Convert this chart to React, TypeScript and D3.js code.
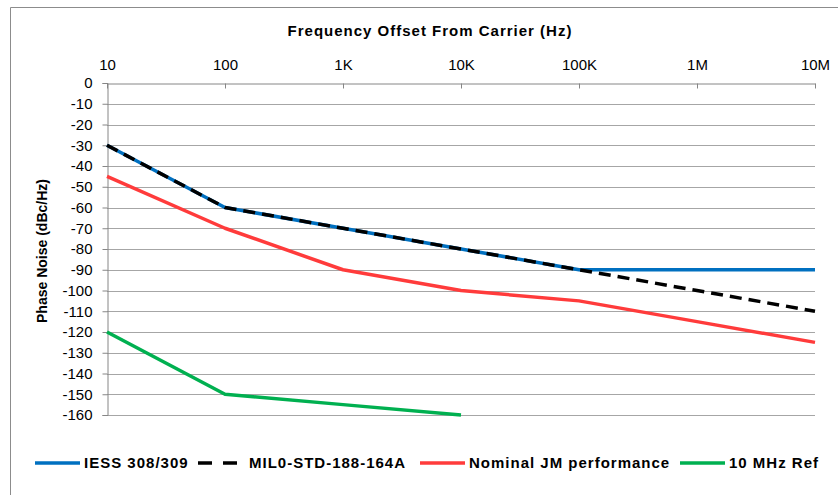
import * as d3 from "d3";
import { useRef, useEffect } from "react";

const freqs = [10, 100, 1e3, 1e4, 1e5, 1e6, 1e7];
const freqLabels = ["10", "100", "1K", "10K", "100K", "1M", "10M"];
const yTicks = d3.range(0, -170, -10);

const iess = [-30, -60, -70, -80, -90, -90, -90];
const mil = [-30, -60, -70, -80, -90, -100, -110];
const nominal = [-45, -70, -90, -100, -105, -115, -125];
const ref10 = [-120, -150, -155, -160];

type Series = { name: string; values: number[]; color: string; dash?: string };

const series: Series[] = [
    { name: "IESS 308/309", values: iess, color: "#0070c0" },
    { name: "MIL0-STD-188-164A", values: mil, color: "#000000", dash: "12,7" },
    { name: "Nominal JM performance", values: nominal, color: "#ff3b3b" },
    { name: "10 MHz Ref", values: ref10, color: "#00b050" },
];

// legend swatch x positions (left of line), text follows
const legendX = [35, 198, 420, 680];

const width = 838;
const height = 495;
const plotLeft = 107;
const plotRight = 815;
const plotTop = 83;
const plotBottom = 415;

export default function App() {
    const ref = useRef<SVGGElement>(null);

    useEffect(() => {
        const g = d3.select(ref.current);
        g.selectAll("*").remove();

        const x = d3.scaleLog().domain([10, 1e7]).range([plotLeft, plotRight]);
        const y = d3.scaleLinear().domain([0, -160]).range([plotTop, plotBottom]);

        // frame
        g.append("path")
            .attr("d", `M10.5,${height} V7.5 H${width}`)
            .attr("fill", "none")
            .attr("stroke", "#8c8c8c");

        // gridlines
        g.append("g")
            .selectAll("line")
            .data(yTicks.filter(d => d !== 0))
            .join("line")
            .attr("x1", plotLeft)
            .attr("x2", plotRight)
            .attr("y1", d => Math.round(y(d)) + 0.5)
            .attr("y2", d => Math.round(y(d)) + 0.5)
            .attr("stroke", "#a6a6a6")
            .attr("stroke-width", 1);

        // left axis
        const leftAxis = d3.axisLeft(y)
            .tickValues(yTicks)
            .tickSize(5)
            .tickPadding(10)
            .tickFormat(d => String(d));
        const la = g.append("g")
            .attr("transform", `translate(${plotLeft + 0.5},0)`)
            .call(leftAxis);
        la.select(".domain").attr("stroke", "#868686");
        la.selectAll(".tick line").attr("stroke", "#868686");
        la.selectAll(".tick text")
            .attr("font-family", "Liberation Sans, Arial, sans-serif")
            .attr("font-size", 15)
            .attr("fill", "#000");

        // top axis (ticks point into plot)
        const topAxis = d3.axisTop(x)
            .tickValues(freqs)
            .tickSize(-5)
            .tickSizeOuter(0)
            .tickPadding(14)
            .tickFormat((_, i) => freqLabels[i]);
        const ta = g.append("g")
            .attr("transform", `translate(0,${plotTop + 0.5})`)
            .call(topAxis);
        ta.select(".domain").attr("stroke", "#868686");
        ta.selectAll(".tick line").attr("stroke", "#868686");
        ta.selectAll(".tick text")
            .attr("font-family", "Liberation Sans, Arial, sans-serif")
            .attr("font-size", 15)
            .attr("fill", "#000");

        // lines
        const line = d3.line<number>()
            .x((_, i) => x(freqs[i]))
            .y(d => y(d));

        g.append("g")
            .selectAll("path")
            .data(series)
            .join("path")
            .attr("d", d => line(d.values))
            .attr("fill", "none")
            .attr("stroke", d => d.color)
            .attr("stroke-width", 3.5)
            .attr("stroke-dasharray", d => d.dash ?? null)
            .attr("stroke-linejoin", "round");

        // titles
        g.append("text")
            .attr("x", (plotLeft + plotRight) / 2 - 31)
            .attr("y", 36)
            .attr("text-anchor", "middle")
            .attr("font-family", "Liberation Sans, Arial, sans-serif")
            .attr("font-size", 15)
            .attr("font-weight", "bold")
            .attr("letter-spacing", 1)
            .text("Frequency Offset From Carrier (Hz)");

        g.append("text")
            .attr("transform", `translate(47,${(plotTop + plotBottom) / 2 + 2}) rotate(-90)`)
            .attr("text-anchor", "middle")
            .attr("font-family", "Liberation Sans, Arial, sans-serif")
            .attr("font-size", 14)
            .attr("font-weight", "bold")
            .text("Phase Noise (dBc/Hz)");

        // legend
        const legend = g.append("g")
            .selectAll("g")
            .data(series)
            .join("g")
            .attr("transform", (_, i) => `translate(${legendX[i]},463)`);
        legend.append("line")
            .attr("x1", 0)
            .attr("x2", 45)
            .attr("stroke", d => d.color)
            .attr("stroke-width", 3.5)
            .attr("stroke-dasharray", d => (d.dash ? "14,11" : null));
        legend.append("text")
            .attr("x", d => (d.dash ? 51 : 49))
            .attr("dy", "0.36em")
            .attr("font-family", "Liberation Sans, Arial, sans-serif")
            .attr("font-size", 15)
            .attr("font-weight", "bold")
            .attr("letter-spacing", 1)
            .text(d => d.name);
    }, []);

    return (
        <svg width={width} height={height} style={{ display: "block", position: "absolute", left: 0, top: 0 }}>
            <rect width={width} height={height} fill="#fff" />
            <g ref={ref}></g>
        </svg>
    );
}
